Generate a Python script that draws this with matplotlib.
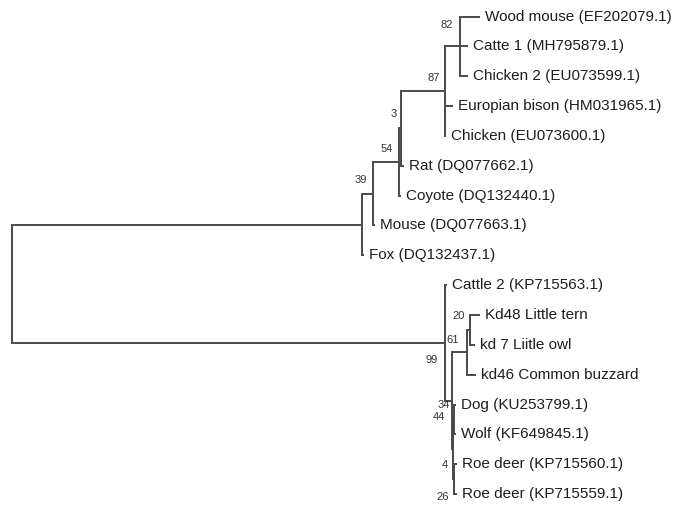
import matplotlib
matplotlib.use("Agg")
import matplotlib.pyplot as plt

## tree kept as parallel lists: node, parent, branch length, bootstrap
## internal nodes start with "_" and get no tip label
node_names = [
    "_root", "_a", "_n39", "_n54", "_n3", "_n87", "_n82",
    "Wood mouse (EF202079.1)", "Catte 1 (MH795879.1)", "Chicken 2 (EU073599.1)",
    "Europian bison (HM031965.1)", "Chicken (EU073600.1)",
    "Rat (DQ077662.1)", "Coyote (DQ132440.1)", "Mouse (DQ077663.1)",
    "Fox (DQ132437.1)",
    "_n99", "Cattle 2 (KP715563.1)", "_n44", "_n61", "_n20",
    "Kd48 Little tern", "kd 7 Liitle owl", "kd46 Common buzzard",
    "_nx", "_n34", "Dog (KU253799.1)", "Wolf (KF649845.1)",
    "_n4", "Roe deer (KP715560.1)", "Roe deer (KP715559.1)",
]
parents = [
    None, "_root", "_a", "_n39", "_n54", "_n3", "_n87",
    "_n82", "_n82", "_n82",
    "_n87", "_n87",
    "_n3", "_n54", "_n39",
    "_a",
    "_root", "_n99", "_n99", "_n44", "_n61",
    "_n20", "_n20", "_n61",
    "_n44", "_nx", "_n34", "_n34",
    "_nx", "_n4", "_n4",
]
branch_len = [
    0.0, 0.350, 0.011, 0.026, 0.002, 0.044, 0.015,
    0.020, 0.008, 0.008,
    0.008, 0.001,
    0.003, 0.002, 0.002,
    0.002,
    0.4335, 0.0015, 0.0065, 0.015, 0.003,
    0.010, 0.005, 0.009,
    0.001, 0.0015, 0.002, 0.002,
    0.0015, 0.0025, 0.0025,
]
support = [
    None, None, "39", "54", "3", "87", "82",
    None, None, None,
    None, None,
    None, None, None,
    None,
    "99", None, "44", "61", "20",
    None, None, None,
    "26", "34", None, None,
    "4", None, None,
]

## where each bootstrap number sits: (px left of node, px below node)
support_offset = {
    "82": (7, -21.5), "87": (5, -13.5), "3": (4, -14.5), "54": (6, -13.5),
    "39": (6, -14), "99": (7.5, 17.5), "61": (8, -12.5), "20": (5, -14),
    "34": (4.5, -14.5), "44": (7, 15.7), "4": (6.5, -14), "26": (4, 47.7),
}

line_col = "#4a4a4a"

## build children lists, depth and y position
children = {n: [] for n in node_names}
for n, p in zip(node_names, parents):
    if p is not None:
        children[p].append(n)
blen = dict(zip(node_names, branch_len))
boot = dict(zip(node_names, support))

depth = {}
ypos = {}
leaf_count = [0]


def walk(node, d):
    depth[node] = d + blen[node]
    if not children[node]:
        ypos[node] = leaf_count[0]
        leaf_count[0] += 1
    else:
        for c in children[node]:
            walk(c, depth[node])
        ypos[node] = (ypos[children[node][0]] + ypos[children[node][-1]]) / 2.0


walk("_root", 0.0)

fig = plt.figure(figsize=(6.86, 5.05), dpi=100)
ax = fig.add_axes([0, 0, 1, 1])
ax.set_xlim(-0.012, 0.674)
ax.set_ylim(16.365, -0.553)
ax.axis("off")

for n, p in zip(node_names, parents):
    if children[n]:
        ax.plot([depth[n], depth[n]],
                [ypos[children[n][0]], ypos[children[n][-1]]],
                color=line_col, lw=1.4, solid_capstyle="projecting")
    if p is not None:
        ax.plot([depth[p], depth[n]], [ypos[n], ypos[n]],
                color=line_col, lw=1.4, solid_capstyle="butt")
    if not children[n]:
        ax.annotate(n, (depth[n], ypos[n]), xytext=(5, 0),
                    textcoords="offset pixels", ha="left", va="center",
                    fontsize=11, family="Liberation Sans", color="#1e1e1e")
    elif boot[n] is not None:
        dx, dy = support_offset[boot[n]]
        ax.annotate(boot[n], (depth[n], ypos[n]), xytext=(-dx, -dy),
                    textcoords="offset pixels", ha="right", va="center",
                    fontsize=8, family="Liberation Sans", color="#333333")

fig.savefig("out.png", dpi=100, facecolor="white")
